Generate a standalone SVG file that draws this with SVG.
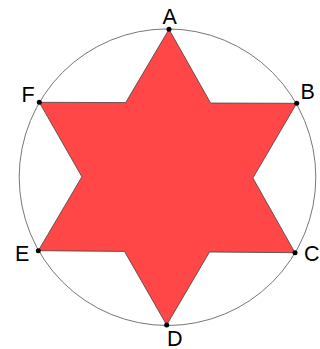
<svg xmlns="http://www.w3.org/2000/svg" width="320" height="349" viewBox="0 0 320 349">
<style>
.lbl{font-family:"Liberation Sans",Arial,sans-serif;font-size:21.5px;fill:#000}
.pt{fill:#000}
</style>
<rect width="320" height="349" fill="#fff"/>
<g id="circle"><circle cx="167.5" cy="177.2" r="148.3" fill="none" stroke="#777" stroke-width="1"/></g>
<g id="star"><polygon points="169,29.3 210.6,103 296.7,103.3 252.9,178 295,252.7 209.5,252 166.7,325 124.5,251.4 38.3,250.7 81.9,176.8 39.3,102.3 125.7,102.6" fill="#ff4747" stroke="#444" stroke-width="0.8" stroke-linejoin="miter"/></g>
<g id="A"><circle class="pt" cx="169" cy="29.3" r="2.5"/><text class="lbl" x="162.5" y="23.5">A</text></g>
<g id="B"><circle class="pt" cx="296.7" cy="103.3" r="2.5"/><text class="lbl" x="300.5" y="99">B</text></g>
<g id="C"><circle class="pt" cx="295" cy="252.7" r="2.5"/><text class="lbl" x="304" y="260.5">C</text></g>
<g id="D"><circle class="pt" cx="166.7" cy="325" r="2.5"/><text class="lbl" x="167" y="345.5">D</text></g>
<g id="E"><circle class="pt" cx="38.3" cy="250.7" r="2.5"/><text class="lbl" x="15" y="260.5">E</text></g>
<g id="F"><circle class="pt" cx="39.3" cy="102.3" r="2.5"/><text class="lbl" x="21.5" y="102">F</text></g>
</svg>
